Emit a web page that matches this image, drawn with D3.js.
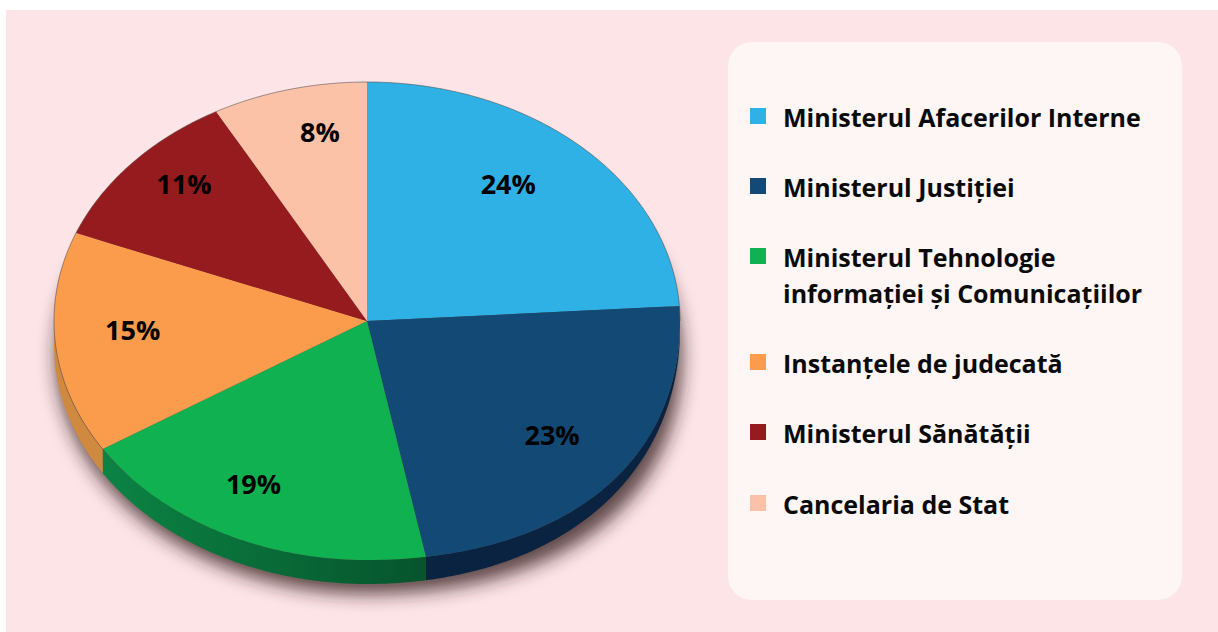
<!DOCTYPE html>
<html><head><meta charset="utf-8">
<style>html,body{margin:0;padding:0;background:#fff}svg{display:block}</style>
<script src="https://cdn.jsdelivr.net/npm/d3@7/dist/d3.min.js"></script>
</head><body><svg id="c" width="1218" height="632"></svg>
<script>
const categories = ["Ministerul Afacerilor Interne","Ministerul Justiției","Ministerul Tehnologie\ninformației și Comunicațiilor","Instanțele de judecată","Ministerul Sănătății","Cancelaria de Stat"];
const values = [24,23,19,15,11,8];
const colors = ["#2fb1e6","#124a75","#10b150","#fb9b4c","#951b1e","#fcc2a8"];
const wallColors = ["#1b6f94","#0a2340","url(#greenWall)","#cf8a40","#5e1013","#b98a76"];
// hand-placed offsets of the percentage labels from their slice centroid (layout, px)
const labelNudgeX = [-13,7,-24,-10,-14,9];
const labelNudgeY = [-12,9,5,-7,-23,-22];

const W=1218,H=632, cx=367, cy=321, rx=313, ry=239, depth=24;
const font='"Open Sans","Noto Sans",sans-serif';
const svg=d3.select("#c");
const defs=svg.append("defs");
const f=defs.append("filter").attr("id","blur").attr("x","-20%").attr("y","-20%").attr("width","140%").attr("height","140%");
f.append("feGaussianBlur").attr("stdDeviation",9);
const g0=defs.append("linearGradient").attr("id","greenWall").attr("gradientUnits","userSpaceOnUse")
  .attr("x1",100).attr("x2",430).attr("y1",0).attr("y2",0);
g0.append("stop").attr("offset",0).attr("stop-color","#0b8444");
g0.append("stop").attr("offset",1).attr("stop-color","#07532c");

svg.append("rect").attr("x",6).attr("y",10).attr("width",W-6).attr("height",H-10).attr("fill","#fce4e7");
svg.append("rect").attr("x",728).attr("y",42).attr("width",454).attr("height",558).attr("rx",24).attr("fill","#fef5f5");

const pie=d3.pie().sort(null).value(d=>d)(values);
const sx=d3.scaleLinear().domain([-1,1]).range([cx-rx,cx+rx]);
const sy=d3.scaleLinear().domain([-1,1]).range([cy-ry,cy+ry]);

// the reference's rim bulges slightly in its lower right quadrant, where its wall also thins out
const inRight=a=>{const t=a-Math.PI/2;return t>0&&t<Math.PI/2};
const rim=a=>inRight(a)?1+0.032*Math.pow(Math.sin(2*(a-Math.PI/2)),2):1;
const wallDepth=a=>inRight(a)?depth*(0.35+0.65*Math.pow(Math.sin(a-Math.PI/2),2)):depth;
const px=a=>sx(rim(a)*Math.sin(a));
const py=a=>sy(-rim(a)*Math.cos(a));
const angles=(a0,a1)=>{const n=Math.max(2,Math.ceil((a1-a0)/0.01));return d3.range(n+1).map(i=>a0+(a1-a0)*i/n)};
const line=d3.line();
const face=d=>line([[cx,cy],...angles(d.startAngle,d.endAngle).map(a=>[px(a),py(a)])])+"Z";
const wall=d=>{
  const s=Math.max(d.startAngle,Math.PI/2), e=Math.min(d.endAngle,3*Math.PI/2);
  if(e<=s) return null;
  const as=angles(s,e);
  return line([...as.map(a=>[px(a),py(a)]),...as.slice().reverse().map(a=>[px(a),py(a)+wallDepth(a)])])+"Z";
};

// shadow
svg.append("path")
  .attr("d",line(angles(0,2*Math.PI).map(a=>[px(a)+2,py(a)+depth+10]))+"Z")
  .attr("fill","#3a2020").attr("fill-opacity",.8).attr("filter","url(#blur)");

// side wall
svg.append("g").selectAll("path").data(pie).join("path").attr("d",wall).attr("fill",(d,i)=>wallColors[i]);

// top face
svg.append("g").selectAll("path").data(pie).join("path").attr("d",face).attr("fill",(d,i)=>colors[i]);

// thin rim line on the upper edge
svg.append("path").attr("fill","none").attr("stroke","#4a4a4a").attr("stroke-opacity",.55).attr("stroke-width",1)
  .attr("d",line(angles(-Math.PI*0.72,Math.PI*0.5).map(a=>[px(a),py(a)])));

// value labels
const labelR=0.72;
svg.append("g").selectAll("text").data(pie).join("text")
  .attr("x",(d,i)=>{const a=(d.startAngle+d.endAngle)/2;return sx(labelR*Math.sin(a))+labelNudgeX[i]})
  .attr("y",(d,i)=>{const a=(d.startAngle+d.endAngle)/2;return sy(-labelR*Math.cos(a))+10+labelNudgeY[i]})
  .attr("text-anchor","middle").attr("font-family",font).attr("font-weight",700).attr("font-size",27)
  .attr("fill","#000").text(d=>d.value+"%");

// legend
const rowY=[127,197,267,373,443,514];
const leg=svg.append("g").selectAll("g").data(categories).join("g").attr("transform",(d,i)=>`translate(750,${rowY[i]})`);
leg.append("rect").attr("y",-19).attr("width",16).attr("height",16).attr("fill",(d,i)=>colors[i]);
leg.append("text").attr("x",33).attr("font-family",font).attr("font-weight",700).attr("font-size",25).attr("fill","#0a0a0a")
 .selectAll("tspan").data(d=>d.split("\n")).join("tspan").attr("x",33).attr("dy",(d,i)=>i?36:0).text(d=>d);
</script></body></html>
